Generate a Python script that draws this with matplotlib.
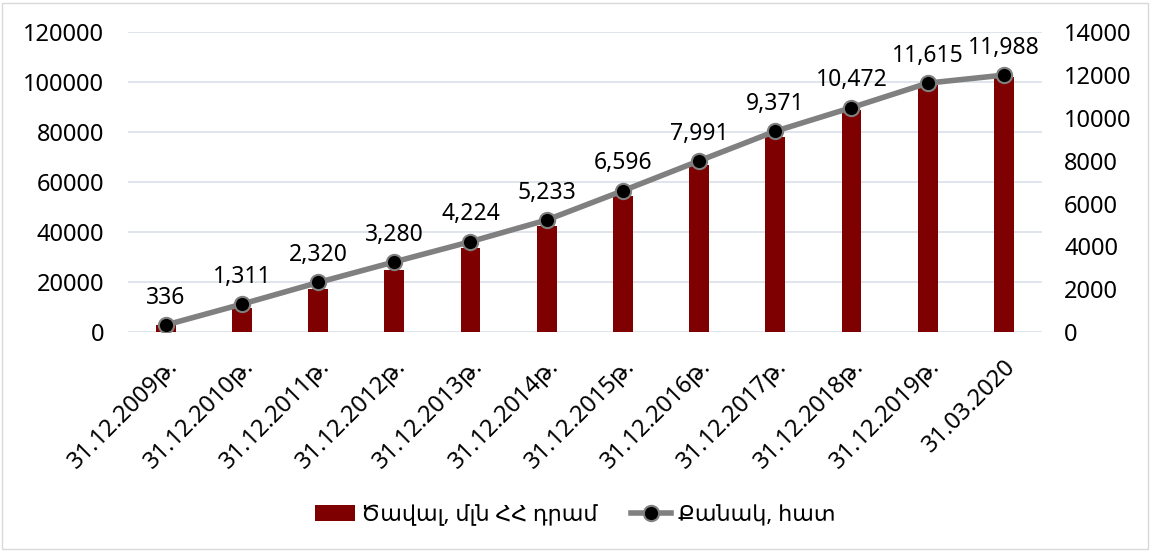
import matplotlib.pyplot as plt
from matplotlib.patches import Rectangle

plt.rcParams['font.family'] = ['Noto Sans', 'DejaVu Sans']
plt.rcParams['font.size'] = 17

dates = ['31.12.2009թ.', '31.12.2010թ.', '31.12.2011թ.', '31.12.2012թ.',
         '31.12.2013թ.', '31.12.2014թ.', '31.12.2015թ.', '31.12.2016թ.',
         '31.12.2017թ.', '31.12.2018թ.', '31.12.2019թ.', '31.03.2020']
volume = [2700, 9700, 17300, 25000, 33700, 42400, 54400, 67000, 78100, 89000, 99000, 102000]
count = [336, 1311, 2320, 3280, 4224, 5233, 6596, 7991, 9371, 10472, 11615, 11988]

bar_color = '#7f0000'
line_color = '#808080'
grid_color = '#dde2ea'

fig = plt.figure(figsize=(11.5, 5.51), dpi=100)
ax = fig.add_axes([0.111, 0.397, 0.795, 0.545])
ax2 = ax.twinx()

x = list(range(len(dates)))
ax.bar(x, volume, width=0.26, color=bar_color, zorder=2, label='Ծավալ, մլն ՀՀ դրամ')
ax.set_ylim(0, 120000)
ax.set_yticks(range(0, 120001, 20000))
ax.set_xlim(-0.5, len(dates) - 0.5)
ax.set_xticks(x)
ax.set_xticklabels(dates, rotation=45, ha='right', rotation_mode='anchor')
ax.grid(axis='y', color=grid_color, linewidth=1.3, zorder=0)
ax.set_axisbelow(True)

ax2.plot(x, count, color=line_color, linewidth=4, marker='o', markersize=11,
         markerfacecolor='black', markeredgecolor=line_color, markeredgewidth=1.5,
         zorder=3, label='Քանակ, հատ')
ax2.set_ylim(0, 14000)
ax2.set_yticks(range(0, 14001, 2000))
for i, v in enumerate(count):
    ax2.annotate(f'{v:,}', (i, v), xytext=(0, 11), textcoords='offset points',
                 ha='center', va='bottom', fontsize=16.5)

for a in (ax, ax2):
    for s in a.spines.values():
        s.set_visible(False)
    a.tick_params(length=0, labelsize=17)
ax.tick_params(axis='y', pad=17)
ax.tick_params(axis='x', pad=16)
ax2.tick_params(axis='y', pad=16)

h1, l1 = ax.get_legend_handles_labels()
h2, l2 = ax2.get_legend_handles_labels()
fig.legend(h1 + h2, l1 + l2, loc='center', bbox_to_anchor=(0.5, 0.065), ncol=2,
           frameon=False, fontsize=16, handlelength=1.8, handletextpad=0.3,
           columnspacing=1.5)

fig.patches.append(Rectangle((0.002, 0.004), 0.996, 0.99, transform=fig.transFigure,
                             fill=False, edgecolor='#d9d9d9', linewidth=1))

fig.savefig('out.png', dpi=100)
